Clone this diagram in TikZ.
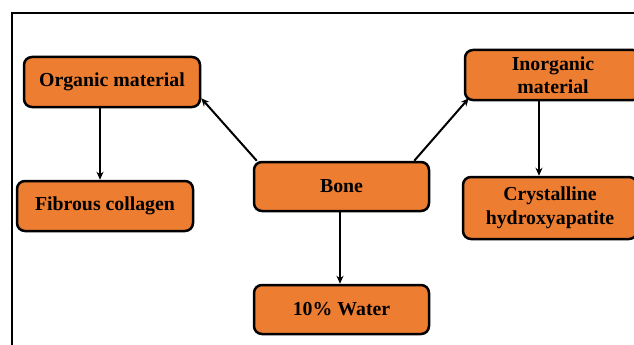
\documentclass[tikz,border=0pt]{standalone}
\usepackage{fontspec}
\setmainfont{Liberation Serif}
\usetikzlibrary{arrows.meta,calc}
\definecolor{boxorange}{HTML}{ED7D31}
\begin{document}
\begin{tikzpicture}[x=1pt,y=-1pt,
  box/.style={draw=black,line width=2.5pt,fill=boxorange,rounded corners=8pt,
    inner sep=0pt,align=center,font=\fontsize{19.8}{23.5}\selectfont\bfseries},
  conn/.style={line width=2pt,-{Stealth[length=8pt,width=7pt]}}]
\useasboundingbox (0,0) rectangle (634,345);
\draw[line width=2.5pt] (12,360) -- (12,13) -- (650,13);
\node[box,minimum width=176pt,minimum height=50pt] (org) at (112,82) {Organic material};
\node[box,minimum width=176pt,minimum height=50pt] (fib) at (105,206) {Fibrous collagen};
\node[box,minimum width=175pt,minimum height=49pt] (bone) at (341.5,186.5) {Bone};
\node[box,minimum width=175pt,minimum height=49pt] (water) at (341.5,309.5) {10\% Water};
\node[box,minimum width=176pt,minimum height=50pt] (inorg) at (553,75) {Inorganic\\material};
\node[box,minimum width=174pt,minimum height=62pt] (cryst) at (550,208) {Crystalline\\hydroxyapatite};
\draw[conn] (org.south -| 100,0) -- (fib.north -| 100,0);
\draw[conn] ($(bone.north west)+(4,0)$) -- ($(org.south east)+(0,-10)$);
\draw[conn] ($(bone.north east)+(-16,0)$) -- ($(inorg.south west)+(5,-3)$);
\draw[conn] (inorg.south -| 539,0) -- (cryst.north -| 539,0);
\draw[conn] (bone.south -| 340,0) -- (water.north -| 340,0);
\end{tikzpicture}
\end{document}
